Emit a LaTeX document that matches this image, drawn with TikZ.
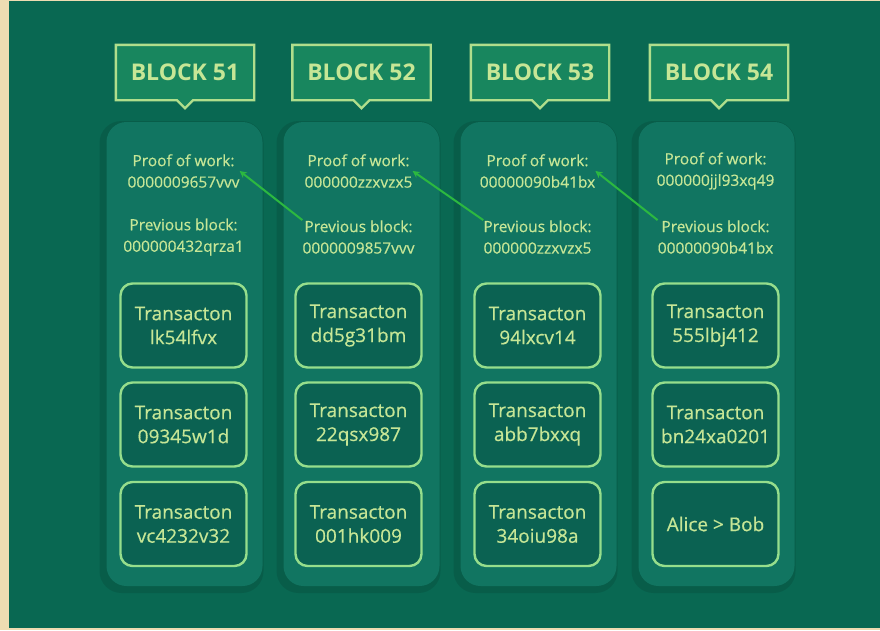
\documentclass[tikz,border=0pt]{standalone}
\usepackage{fontspec}
\setmainfont{Open Sans}
\newfontfamily\medfont[FakeBold=0.5]{Open Sans}
\usetikzlibrary{arrows.meta,calc}
\definecolor{bgc}{RGB}{9,104,82}
\definecolor{beige}{RGB}{238,220,178}
\definecolor{colc}{RGB}{17,117,97}
\definecolor{txtc}{RGB}{198,230,150}
\definecolor{labc}{RGB}{24,134,94}
\definecolor{labline}{RGB}{176,222,140}
\definecolor{txfill}{RGB}{11,98,82}
\definecolor{txline}{RGB}{150,222,140}
\definecolor{arrc}{RGB}{44,184,64}
\tikzset{
  colbox/.style={fill=colc, rounded corners=20pt, minimum width=156pt, minimum height=464pt, inner sep=0pt},
  colshadow/.style={fill=black, opacity=0.10, rounded corners=22pt, minimum width=164pt, minimum height=472pt, inner sep=0pt},
  labtext/.style={text=txtc, font=\fontsize{23}{24}\selectfont\bfseries, minimum width=138pt, minimum height=55pt, inner sep=0pt},
  labshape/.style={draw=labline, fill=labc, line width=2.4pt},
  info/.style={text=txtc, align=center, inner sep=0pt, font=\medfont\fontsize{15.5}{21.5}\selectfont},
  txbox/.style={draw=txline, fill=txfill, line width=2.4pt, rounded corners=12pt, minimum width=126pt, minimum height=84pt, align=center, text=txtc, inner sep=0pt, font=\medfont\fontsize{19}{24}\selectfont},
  link/.style={draw=arrc, line width=2pt, -{Stealth[length=7pt,width=7pt]}}
}
\begin{document}
\begin{tikzpicture}[x=1pt,y=-1pt]
\useasboundingbox (0,0) rectangle (880,630);
\fill[beige] (0,0) rectangle (880,630);
\fill[bgc] (9,1) rectangle (880,628);

% column shadows and columns
\foreach \cx in {184.5,361.5,538.5,716.5}{
  \node[colshadow] at (\cx-3,357) {};
}
\node[colbox] (c1) at (184.5,354) {};
\node[colbox] (c2) at (361.5,354) {};
\node[colbox] (c3) at (538.5,354) {};
\node[colbox] (c4) at (716.5,354) {};

% block labels
\foreach \n/\cx/\t in {b1/185/51, b2/361.5/52, b3/540/53, b4/719/54}{
  \node[labtext] (\n) at (\cx,72.5) {};
  \draw[labshape] (\n.north west) -- (\n.north east) -- (\n.south east)
     -- ($(\n.south)+(8,0)$) -- ($(\n.south)+(0,8)$) -- ($(\n.south)+(-8,0)$)
     -- (\n.south west) -- cycle;
  \node[labtext] at (\n) {BLOCK \t};
}

% proof of work / previous block
\node[info] (p1) at (183.5,171) {Proof of work:\\0000009657vvv};
\node[info] (p2) at (358.5,171) {Proof of work:\\000000zzxvzx5};
\node[info] (p3) at (537.5,171) {Proof of work:\\00000090b41bx};
\node[info] (p4) at (715.5,171) {Proof of work:\\000000jjl93xq49};
\node[info] (v1) at (183.5,237) {Previous block:\\000000432qrza1};
\node[info] (v2) at (358.5,237) {Previous block:\\0000009857vvv};
\node[info] (v3) at (537.5,237) {Previous block:\\000000zzxvzx5};
\node[info] (v4) at (715.5,237) {Previous block:\\00000090b41bx};

% transactions
\node[txbox] (t11) at (183.5,325.5) {Transacton\\lk54lfvx};
\node[txbox] (t12) at (183.5,424.5) {Transacton\\09345w1d};
\node[txbox] (t13) at (183.5,524) {Transacton\\vc4232v32};
\node[txbox] (t21) at (358.5,325.5) {Transacton\\dd5g31bm};
\node[txbox] (t22) at (358.5,424.5) {Transacton\\22qsx987};
\node[txbox] (t23) at (358.5,524) {Transacton\\001hk009};
\node[txbox] (t31) at (537.5,325.5) {Transacton\\94lxcv14};
\node[txbox] (t32) at (537.5,424.5) {Transacton\\abb7bxxq};
\node[txbox] (t33) at (537.5,524) {Transacton\\34oiu98a};
\node[txbox] (t41) at (715.5,325.5) {Transacton\\555lbj412};
\node[txbox] (t42) at (715.5,424.5) {Transacton\\bn24xa0201};
\node[txbox] (t43) at (715.5,524) {Alice > Bob};

% links
\draw[link] (v2.north west) -- (p1.east);
\draw[link] (v3.north west) -- (p2.east);
\draw[link] (v4.north west) -- (p3.east);
\end{tikzpicture}
\end{document}
